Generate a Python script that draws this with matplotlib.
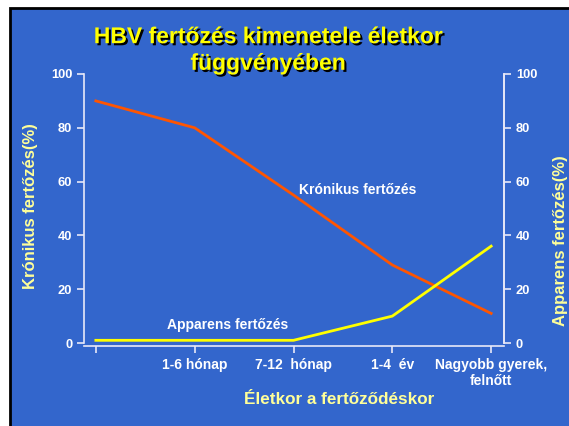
import matplotlib.pyplot as plt
import matplotlib.patheffects as pe
from matplotlib.patches import Rectangle

plt.rcParams['font.family'] = ['Liberation Sans', 'DejaVu Sans']
plt.rcParams['font.weight'] = 'bold'

categories = ["", "1-6 hónap", "7-12  hónap", "1-4  év", "Nagyobb gyerek,\nfelnőtt"]
kronikus = [90, 80, 55, 29, 11]
apparens = [1, 1, 1, 10, 36]
yticks = [0, 20, 40, 60, 80, 100]

blue = "#3366CC"
pale = "#FFFF99"
axis_col = "#E8E8F8"

fig = plt.figure(figsize=(5.69, 4.26), dpi=100)
fig.patch.set_facecolor("white")
# blue slide background with black border at top/left
bg = Rectangle((10 / 569, -0.05), 1.05, 1 - 8 / 426 + 0.05, transform=fig.transFigure,
               facecolor=blue, edgecolor="black", linewidth=2, zorder=-10)
fig.patches.append(bg)

ax = fig.add_axes([84 / 569, 1 - 343 / 426, 420 / 569, 269 / 426])
ax.set_facecolor("none")
x = list(range(len(categories)))
ax.plot(x, kronikus, color="#FF5500", linewidth=2)
ax.plot(x, apparens, color="#FFFF00", linewidth=2)
ax.set_xlim(-0.12, 4.13)
ax.set_ylim(0, 100)
ax.set_yticks(yticks)
ax.set_xticks(x)
ax.set_xticklabels(categories, color="white", fontsize=8.7, fontweight="bold")
ax.tick_params(axis="y", colors=axis_col, labelcolor="white", labelsize=9.3, length=5, width=1.2)
ax.tick_params(axis="x", colors=axis_col, labelcolor="white", length=5, width=1.2, pad=4)
for s in ["left", "bottom", "right"]:
    ax.spines[s].set_color(axis_col)
    ax.spines[s].set_linewidth(1.2)
ax.spines["top"].set_visible(False)
ax.spines["bottom"].set_position(("outward", 2))

ax2 = ax.twinx()
ax2.set_ylim(0, 100)
ax2.set_yticks(yticks)
ax2.tick_params(axis="y", colors=axis_col, labelcolor="white", labelsize=9.3, length=5, width=1.2)
for s in ["left", "bottom", "top"]:
    ax2.spines[s].set_visible(False)
ax2.spines["right"].set_color(axis_col)
ax2.spines["right"].set_linewidth(1.2)
for lbl in ax.get_yticklabels() + ax2.get_yticklabels():
    lbl.set_fontweight("bold")

ax.text(358 / 569, 1 - 190 / 426, "Krónikus fertőzés", transform=fig.transFigure,
        color="white", fontsize=10, fontweight="bold", ha="center", va="center")
ax.text(228 / 569, 1 - 325 / 426, "Apparens fertőzés", transform=fig.transFigure,
        color="white", fontsize=10, fontweight="bold", ha="center", va="center")

fig.text(31 / 569, 1 - 206 / 426, "Krónikus fertőzés(%)", rotation=90, color=pale,
         fontsize=12, fontweight="bold", ha="center", va="center")
fig.text(560 / 569, 1 - 241 / 426, "Apparens fertőzés(%)", rotation=90, color=pale,
         fontsize=12, fontweight="bold", ha="center", va="center")
fig.text(339 / 569, 1 - 400 / 426, "Életkor a fertőződéskor", color=pale,
         fontsize=12.3, fontweight="bold", ha="center", va="center")

shadow = [pe.withSimplePatchShadow(offset=(1.5, -1.5), shadow_rgbFace="black", alpha=1.0)]
fig.text(268 / 569, 1 - 50 / 426, "HBV fertőzés kimenetele életkor\nfüggvényében", color="#FFFF00",
         fontsize=16.5, fontweight="bold", ha="center", va="center", linespacing=1.2,
         path_effects=shadow)

fig.savefig("out.png", dpi=100)
